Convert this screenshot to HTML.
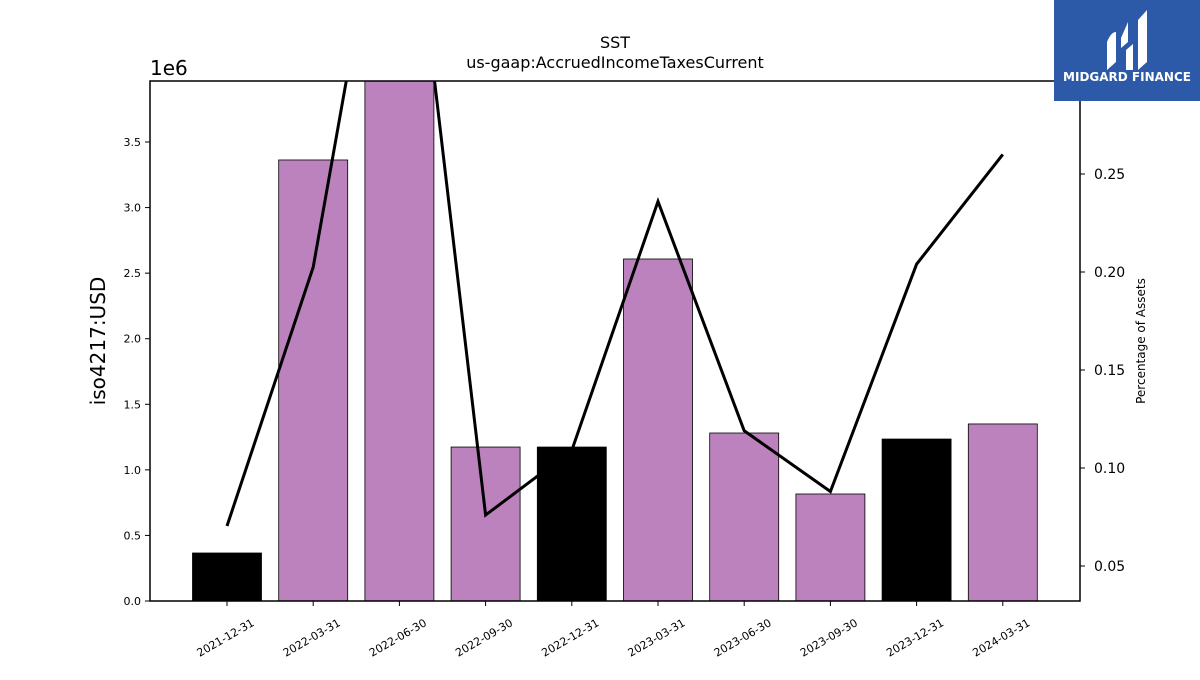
<!DOCTYPE html>
<html><head><meta charset="utf-8"><style>
html,body{margin:0;padding:0;background:#fff;}
svg text{font-family:"DejaVu Sans","Liberation Sans",sans-serif;}
</style></head><body>
<svg width="1200" height="675" xmlns="http://www.w3.org/2000/svg">
<g id="plot"></g>
<g>
<rect x="1054" y="0" width="146" height="101" fill="#2c5aa8"/>
<path d="M1107 42 q4 -10 9 -10 v30 l-9 8 z M1121 38 l7 -16 v20 l-7 6z M1126 50 l7 -6 v26 l-7 0z M1138 20 l9 -10 v52 l-9 8z" fill="#fff"/>
<text x="1127" y="81" font-size="12" font-weight="bold" fill="#fff" text-anchor="middle">MIDGARD FINANCE</text>
</g>
</svg>
<script>
const categories=["2021-12-31","2022-03-31","2022-06-30","2022-09-30","2022-12-31","2023-03-31","2023-06-30","2023-09-30","2023-12-31","2024-03-31"];
const barValues=[0.366e6,3.363e6,4.2e6,1.174e6,1.174e6,2.608e6,1.281e6,0.816e6,1.235e6,1.35e6];
const pctValues=[0.0704,0.2025,0.45,0.076,0.109,0.236,0.119,0.088,0.204,0.26];
const leftTicks=[0,0.5,1.0,1.5,2.0,2.5,3.0,3.5];
const rightTicks=[0.05,0.10,0.15,0.20,0.25];
const NS="http://www.w3.org/2000/svg";
const L=150,R=1080,T=81,B=601;
const yL=v=>B-(v/1e6)*131.14;
const yR=v=>566-(v-0.05)*1960;
const xC=i=>227+i*86.2;
const g=document.getElementById('plot');
function mk(tag,attrs,parent){const e=document.createElementNS(NS,tag);for(const k in attrs)e.setAttribute(k,attrs[k]);(parent||g).appendChild(e);return e;}
const defs=mk('defs',{});
const cp=mk('clipPath',{id:'clip'},defs);mk('rect',{x:L,y:T,width:R-L,height:B-T},cp);
const bars=mk('g',{'clip-path':'url(#clip)'});
categories.forEach((c,i)=>{
 const y=yL(barValues[i]);
 const r=mk('rect',{x:xC(i)-34.5,y:y,width:69,height:B-y,fill:c.endsWith('12-31')?'#000':'#bc82bd',stroke:'#000','stroke-width':0.8},bars);
 
 
});
const line=mk('polyline',{points:pctValues.map((v,i)=>xC(i)+','+yR(v)).join(' '),fill:'none',stroke:'#000','stroke-width':3,'clip-path':'url(#clip)'});


mk('rect',{x:L,y:T,width:R-L,height:B-T,fill:'none',stroke:'#000','stroke-width':1.5});
leftTicks.forEach(v=>{const y=yL(v*1e6);mk('line',{x1:L-5,x2:L,y1:y,y2:y,stroke:'#000'});
 const t=mk('text',{x:L-9,y:y+4,'font-size':11,'text-anchor':'end'});t.textContent=v.toFixed(1);
 });
rightTicks.forEach(v=>{const y=yR(v);mk('line',{x1:R,x2:R+5,y1:y,y2:y,stroke:'#000'});
 const t=mk('text',{x:R+14,y:y+5,'font-size':14});t.textContent=v.toFixed(2);
 });
categories.forEach((c,i)=>{const x=xC(i);mk('line',{x1:x,x2:x,y1:B,y2:B+5,stroke:'#000'});
 const t=mk('text',{x:x+28,y:B+24,'font-size':11,'text-anchor':'end',transform:`rotate(-30 ${x+28} ${B+24})`});t.textContent=c;
 });
function txt(s,a,n){const t=mk('text',a);t.textContent=s;}
txt('SST',{x:615,y:48,'font-size':16,'text-anchor':'middle'},'chart-title');
txt('us-gaap:AccruedIncomeTaxesCurrent',{x:615,y:68,'font-size':16,'text-anchor':'middle'},'chart-subtitle');
txt('1e6',{x:150,y:75,'font-size':20},'y-axis-multiplier');
txt('iso4217:USD',{x:105,y:341,'font-size':20,'text-anchor':'middle',transform:'rotate(-90 105 341)'},'y-axis-title');
txt('Percentage of Assets',{x:1145,y:341,'font-size':12,'text-anchor':'middle',transform:'rotate(-90 1145 341)'},'y2-axis-title');
</script>
</body></html>
